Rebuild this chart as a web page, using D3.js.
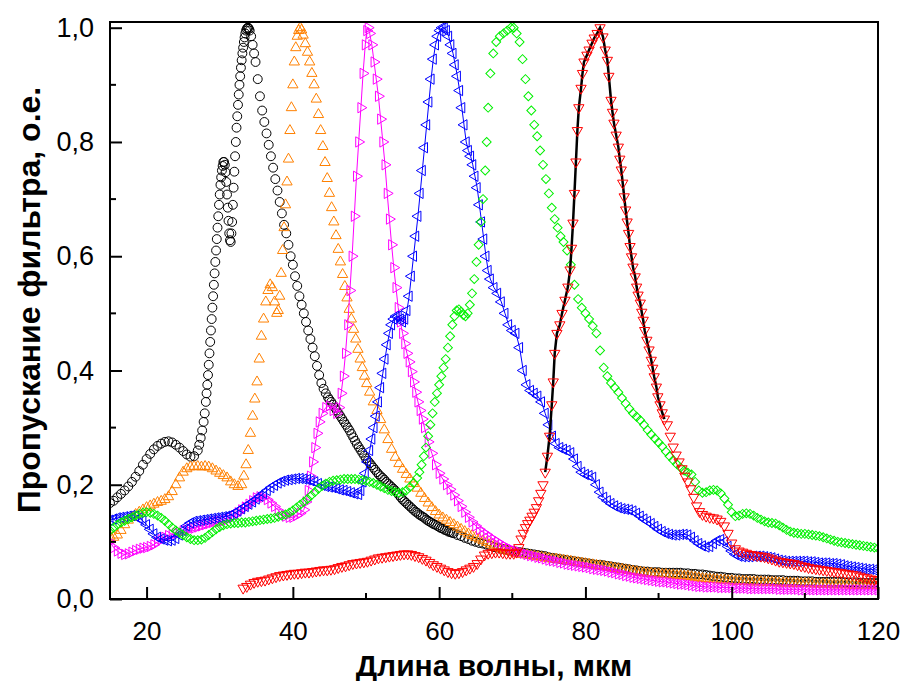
<!DOCTYPE html>
<html>
<head>
<meta charset="utf-8">
<script src="https://cdn.jsdelivr.net/npm/d3@7"></script>
<style>
  body { margin: 0; background: #fff; }
  svg { display: block; }
  text { font-family: "Liberation Sans", Arial, sans-serif; fill: #000; }
</style>
</head>
<body>
<svg id="chart" width="906" height="681"></svg>
<script>
// Axis ticks and titles
const xMajorTicks = [20, 40, 60, 80, 100, 120];
const xMinorTicks = [30, 50, 70, 90, 110];
const yMajorTicks = [0, 0.2, 0.4, 0.6, 0.8, 1.0];
const yMinorTicks = [0.1, 0.3, 0.5, 0.7, 0.9];
const xTitle = "Длина волны, мкм";
const yTitle = "Пропускание фильтра, о.е.";

// Filter transmission spectra: [wavelength, transmission]
const filter34 = [[15,0.168],[15.5,0.172],[16,0.178],[16.5,0.184],[17,0.19],[17.5,0.197],[18,0.205],[18.5,0.214],[19,0.224],[19.5,0.235],[20,0.245],[20.5,0.254],[21,0.262],[21.5,0.268],[22,0.272],[22.5,0.275],[23,0.276],[23.5,0.274],[24,0.27],[24.5,0.265],[25,0.259],[25.5,0.253],[26,0.249],[26.5,0.25],[27,0.26],[27.2,0.27],[27.4,0.282],[27.6,0.295],[27.8,0.31],[27.95,0.325],[28.1,0.345],[28.2,0.36],[28.3,0.375],[28.4,0.392],[28.5,0.41],[28.6,0.43],[28.7,0.45],[28.8,0.47],[28.9,0.49],[29,0.51],[29.1,0.53],[29.2,0.55],[29.3,0.57],[29.4,0.59],[29.5,0.61],[29.6,0.63],[29.7,0.65],[29.8,0.67],[29.9,0.69],[30,0.708],[30.1,0.725],[30.2,0.738],[30.3,0.75],[30.4,0.758],[30.5,0.765],[30.6,0.765],[30.7,0.76],[30.8,0.747],[30.9,0.73],[31,0.708],[31.1,0.685],[31.2,0.662],[31.3,0.64],[31.4,0.628],[31.5,0.625],[31.6,0.64],[31.7,0.66],[31.8,0.69],[31.9,0.72],[32,0.748],[32.1,0.775],[32.2,0.8],[32.3,0.825],[32.4,0.845],[32.5,0.865],[32.6,0.883],[32.7,0.9],[32.8,0.915],[32.9,0.93],[33,0.943],[33.1,0.955],[33.2,0.965],[33.3,0.975],[33.4,0.983],[33.5,0.99],[33.6,0.995],[33.7,0.998],[33.8,1.0],[33.9,1.0],[34,0.998],[34.1,0.995],[34.3,0.985],[34.5,0.97],[34.7,0.955],[34.9,0.94],[35.2,0.91],[35.5,0.88],[35.8,0.855],[36.1,0.835],[36.4,0.815],[36.7,0.795],[37,0.775],[37.3,0.755],[37.6,0.735],[37.9,0.715],[38.2,0.695],[38.5,0.675],[38.8,0.655],[39.1,0.64],[39.4,0.62],[39.7,0.6],[40,0.585],[40.3,0.565],[40.6,0.548],[40.9,0.53],[41.2,0.515],[41.5,0.5],[41.8,0.485],[42.1,0.47],[42.4,0.455],[42.7,0.44],[43,0.425],[43.3,0.408],[43.6,0.392],[43.9,0.378],[44.2,0.368],[44.5,0.36],[44.8,0.353],[45,0.349],[45.25,0.345],[45.5,0.34],[45.75,0.335],[46,0.33],[46.25,0.325],[46.5,0.32],[46.75,0.315],[47,0.31],[47.25,0.305],[47.5,0.3],[47.75,0.295],[48,0.289],[48.25,0.283],[48.5,0.277],[48.75,0.271],[49,0.266],[49.25,0.261],[49.5,0.256],[49.75,0.251],[50,0.246],[50.25,0.242],[50.5,0.238],[50.75,0.234],[51,0.23],[51.25,0.226],[51.5,0.222],[51.75,0.218],[52,0.215],[52.25,0.212],[52.5,0.209],[52.75,0.205],[53,0.202],[53.25,0.199],[53.5,0.196],[53.75,0.193],[54,0.19],[54.25,0.186],[54.5,0.182],[54.75,0.178],[55,0.174],[55.25,0.171],[55.5,0.168],[55.75,0.165],[56,0.162],[56.25,0.159],[56.5,0.156],[56.75,0.153],[57,0.151],[57.25,0.148],[57.5,0.146],[57.75,0.144],[58,0.142],[58.25,0.139],[58.5,0.137],[58.75,0.135],[59,0.133],[59.25,0.131],[59.5,0.13],[59.75,0.128],[60,0.126],[60.25,0.124],[60.5,0.123],[60.75,0.121],[61,0.12],[61.25,0.118],[61.5,0.117],[61.75,0.116],[62,0.115],[62.5,0.112],[63,0.11],[63.5,0.107],[64,0.105],[64.5,0.102],[65,0.1],[65.5,0.098],[66,0.097],[66.5,0.095],[67,0.093],[67.5,0.091],[68,0.09],[68.5,0.088],[69,0.087],[69.5,0.085],[70,0.084],[70.5,0.083],[71,0.082],[71.5,0.081],[72,0.08],[72.5,0.079],[73,0.078],[73.5,0.077],[74,0.076],[74.5,0.075],[75,0.073],[75.5,0.072],[76,0.071],[76.5,0.07],[77,0.069],[77.5,0.068],[78,0.067],[78.5,0.066],[79,0.065],[79.5,0.064],[80,0.063],[80.5,0.062],[81,0.061],[81.5,0.06],[82,0.06],[82.5,0.059],[83,0.058],[83.5,0.057],[84,0.056],[84.5,0.055],[85,0.054],[85.5,0.053],[86,0.052],[86.5,0.051],[87,0.05],[87.5,0.049],[88,0.048],[88.5,0.048],[89,0.047],[89.5,0.047],[90,0.047],[90.5,0.046],[91,0.046],[91.5,0.046],[92,0.046],[92.5,0.046],[93,0.046],[93.5,0.045],[94,0.045],[94.5,0.044],[95,0.044],[95.5,0.043],[96,0.043],[96.5,0.042],[97,0.041],[97.5,0.04],[98,0.039],[98.5,0.039],[99,0.038],[99.5,0.037],[100,0.037],[100.5,0.036],[101,0.036],[101.5,0.035],[102,0.035],[102.5,0.035],[103,0.035],[103.5,0.034],[104,0.034],[104.5,0.034],[105,0.034],[105.5,0.033],[106,0.033],[106.5,0.033],[107,0.033],[107.5,0.032],[108,0.032],[108.5,0.032],[109,0.032],[109.5,0.031],[110,0.031],[110.5,0.031],[111,0.031],[111.5,0.03],[112,0.03],[112.5,0.03],[113,0.03],[113.5,0.03],[114,0.03],[114.5,0.03],[115,0.03],[115.5,0.029],[116,0.029],[116.5,0.029],[117,0.029],[117.5,0.028],[118,0.028],[118.5,0.028],[119,0.028],[119.5,0.028],[120,0.028]];

const filter41 = [[15,0.11],[15.5,0.108],[16,0.112],[16.5,0.12],[17,0.13],[17.5,0.138],[18,0.143],[18.5,0.148],[19,0.152],[19.5,0.156],[20,0.16],[20.5,0.163],[21,0.166],[21.5,0.169],[22,0.171],[22.5,0.174],[23,0.179],[23.5,0.188],[24,0.2],[24.5,0.212],[25,0.222],[25.5,0.228],[26,0.231],[26.5,0.232],[27,0.232],[27.5,0.231],[28,0.232],[28.5,0.231],[29,0.228],[29.5,0.224],[30,0.22],[30.5,0.216],[31,0.212],[31.5,0.205],[32,0.2],[32.5,0.197],[33,0.2],[33.3,0.215],[33.6,0.235],[33.9,0.26],[34.2,0.29],[34.5,0.32],[34.8,0.35],[35.1,0.38],[35.4,0.42],[35.7,0.46],[36,0.49],[36.3,0.52],[36.6,0.54],[36.9,0.55],[37.2,0.545],[37.5,0.52],[37.8,0.5],[38,0.505],[38.2,0.53],[38.4,0.57],[38.6,0.61],[38.8,0.65],[39,0.69],[39.2,0.73],[39.4,0.77],[39.6,0.82],[39.8,0.86],[40,0.9],[40.2,0.94],[40.4,0.965],[40.6,0.985],[40.8,0.995],[41,1.0],[41.2,0.996],[41.4,0.987],[41.7,0.972],[42,0.957],[42.3,0.94],[42.6,0.92],[42.9,0.9],[43.2,0.875],[43.5,0.848],[43.8,0.82],[44.1,0.792],[44.4,0.764],[44.7,0.736],[45,0.71],[45.3,0.685],[45.6,0.66],[45.9,0.636],[46.2,0.612],[46.5,0.59],[46.8,0.568],[47.1,0.547],[47.4,0.527],[47.7,0.507],[48,0.49],[48.3,0.472],[48.6,0.455],[48.9,0.437],[49.2,0.42],[49.5,0.405],[49.8,0.39],[50.1,0.377],[50.5,0.362],[51,0.345],[51.5,0.33],[52,0.314],[52.5,0.296],[53,0.279],[53.5,0.262],[54,0.248],[54.5,0.237],[55,0.227],[55.5,0.218],[56,0.21],[56.5,0.202],[57,0.194],[57.5,0.185],[58,0.176],[58.5,0.168],[59,0.16],[59.5,0.153],[60,0.147],[60.5,0.142],[61,0.138],[61.5,0.134],[62,0.13],[62.5,0.126],[63,0.122],[63.5,0.118],[64,0.114],[64.5,0.111],[65,0.108],[65.5,0.105],[66,0.102],[66.5,0.099],[67,0.096],[67.5,0.093],[68,0.09],[68.5,0.088],[69,0.086],[69.5,0.084],[70,0.082],[70.5,0.08],[71,0.079],[71.5,0.078],[72,0.077],[72.5,0.076],[73,0.075],[73.5,0.074],[74,0.073],[74.5,0.072],[75,0.071],[75.5,0.07],[76,0.07],[76.5,0.069],[77,0.068],[77.5,0.067],[78,0.066],[78.5,0.065],[79,0.064],[79.5,0.063],[80,0.062],[80.5,0.061],[81,0.06],[81.5,0.059],[82,0.058],[82.5,0.057],[83,0.056],[83.5,0.055],[84,0.054],[84.5,0.053],[85,0.052],[85.5,0.051],[86,0.05],[86.5,0.049],[87,0.048],[87.5,0.047],[88,0.046],[88.5,0.045],[89,0.045],[89.5,0.044],[90,0.044],[90.5,0.043],[91,0.043],[91.5,0.042],[92,0.042],[92.5,0.041],[93,0.041],[93.5,0.04],[94,0.04],[94.5,0.039],[95,0.038],[95.5,0.037],[96,0.036],[96.5,0.035],[97,0.035],[97.5,0.034],[98,0.034],[98.5,0.033],[99,0.033],[99.5,0.032],[100,0.032],[100.5,0.031],[101,0.031],[101.5,0.031],[102,0.031],[102.5,0.03],[103,0.03],[103.5,0.03],[104,0.03],[104.5,0.029],[105,0.029],[105.5,0.029],[106,0.029],[106.5,0.028],[107,0.028],[107.5,0.028],[108,0.028],[108.5,0.027],[109,0.027],[109.5,0.027],[110,0.027],[110.5,0.027],[111,0.027],[111.5,0.026],[112,0.026],[112.5,0.026],[113,0.026],[113.5,0.025],[114,0.025],[114.5,0.025],[115,0.025],[115.5,0.025],[116,0.025],[116.5,0.024],[117,0.024],[117.5,0.024],[118,0.024],[118.5,0.024],[119,0.024],[119.5,0.024],[120,0.024]];

const filter50 = [[15,0.1],[15.5,0.09],[16,0.084],[16.5,0.08],[17,0.078],[17.5,0.079],[18,0.082],[18.5,0.085],[19,0.087],[19.5,0.089],[20,0.09],[20.5,0.092],[21,0.095],[21.5,0.1],[22,0.104],[22.5,0.108],[23,0.111],[23.5,0.113],[24,0.115],[24.5,0.117],[25,0.119],[25.5,0.121],[26,0.123],[26.5,0.124],[27,0.126],[27.5,0.128],[28,0.13],[28.5,0.132],[29,0.134],[29.5,0.135],[30,0.136],[30.5,0.137],[31,0.139],[31.5,0.142],[32,0.146],[32.5,0.151],[33,0.156],[33.5,0.161],[34,0.166],[34.5,0.172],[35,0.177],[35.5,0.179],[36,0.178],[36.5,0.174],[37,0.168],[37.5,0.162],[38,0.155],[38.5,0.149],[39,0.145],[39.5,0.143],[40,0.143],[40.5,0.146],[41,0.15],[41.5,0.156],[41.8,0.17],[42.1,0.19],[42.4,0.215],[42.7,0.24],[43,0.265],[43.3,0.29],[43.6,0.31],[44,0.325],[44.5,0.335],[45,0.338],[45.5,0.33],[46,0.325],[46.3,0.335],[46.6,0.36],[46.9,0.39],[47.2,0.43],[47.5,0.48],[47.8,0.54],[48.1,0.6],[48.4,0.67],[48.7,0.74],[49,0.8],[49.3,0.86],[49.6,0.92],[49.9,0.97],[50.1,0.995],[50.3,1.0],[50.5,0.99],[50.8,0.97],[51.1,0.94],[51.4,0.91],[51.7,0.88],[52,0.84],[52.3,0.8],[52.6,0.76],[52.9,0.71],[53.2,0.665],[53.5,0.62],[53.8,0.58],[54.1,0.545],[54.4,0.51],[54.7,0.485],[55,0.465],[55.3,0.447],[55.6,0.43],[55.9,0.415],[56.2,0.398],[56.5,0.38],[56.8,0.362],[57.1,0.345],[57.4,0.33],[57.7,0.315],[58,0.3],[58.5,0.275],[59,0.255],[59.5,0.235],[60,0.22],[60.5,0.21],[61,0.2],[61.5,0.192],[62,0.182],[62.5,0.172],[63,0.162],[63.5,0.152],[64,0.143],[64.5,0.135],[65,0.128],[65.5,0.122],[66,0.117],[66.5,0.113],[67,0.108],[67.5,0.104],[68,0.1],[68.5,0.096],[69,0.092],[69.5,0.089],[70,0.086],[70.5,0.084],[71,0.082],[71.5,0.08],[72,0.078],[72.5,0.076],[73,0.075],[73.5,0.073],[74,0.072],[74.5,0.07],[75,0.068],[75.5,0.067],[76,0.066],[76.5,0.064],[77,0.063],[77.5,0.061],[78,0.06],[78.5,0.059],[79,0.058],[79.5,0.057],[80,0.056],[80.5,0.055],[81,0.053],[81.5,0.052],[82,0.051],[82.5,0.05],[83,0.049],[83.5,0.047],[84,0.046],[84.5,0.044],[85,0.043],[85.5,0.041],[86,0.04],[86.5,0.038],[87,0.037],[87.5,0.036],[88,0.035],[88.5,0.034],[89,0.033],[89.5,0.032],[90,0.031],[90.5,0.03],[91,0.03],[91.5,0.029],[92,0.028],[92.5,0.027],[93,0.026],[93.5,0.026],[94,0.025],[94.5,0.024],[95,0.023],[95.5,0.022],[96,0.022],[96.5,0.021],[97,0.021],[97.5,0.021],[98,0.021],[98.5,0.02],[99,0.02],[99.5,0.02],[100,0.02],[100.5,0.019],[101,0.019],[101.5,0.019],[102,0.019],[102.5,0.018],[103,0.018],[103.5,0.018],[104,0.018],[104.5,0.018],[105,0.018],[105.5,0.018],[106,0.018],[106.5,0.017],[107,0.017],[107.5,0.017],[108,0.017],[108.5,0.017],[109,0.017],[109.5,0.016],[110,0.016],[110.5,0.016],[111,0.016],[111.5,0.016],[112,0.016],[112.5,0.016],[113,0.016],[113.5,0.016],[114,0.016],[114.5,0.016],[115,0.016],[115.5,0.016],[116,0.016],[116.5,0.016],[117,0.016],[117.5,0.016],[118,0.016],[118.5,0.016],[119,0.016],[119.5,0.016],[120,0.016]];

const filter61 = [[15,0.138],[15.5,0.14],[16,0.142],[16.5,0.143],[17,0.144],[17.5,0.145],[18,0.146],[18.5,0.145],[19,0.142],[19.5,0.137],[20,0.13],[20.5,0.122],[21,0.114],[21.5,0.108],[22,0.105],[22.5,0.103],[23,0.102],[23.5,0.103],[24,0.106],[24.5,0.112],[25,0.12],[25.5,0.128],[26,0.133],[26.5,0.136],[27,0.137],[27.5,0.138],[28,0.139],[28.5,0.14],[29,0.141],[29.5,0.142],[30,0.143],[30.5,0.144],[31,0.145],[31.5,0.147],[32,0.15],[32.5,0.154],[33,0.158],[33.5,0.162],[34,0.166],[34.5,0.17],[35,0.175],[35.5,0.18],[36,0.185],[36.5,0.19],[37,0.195],[37.5,0.199],[38,0.203],[38.5,0.206],[39,0.208],[39.5,0.209],[40,0.21],[40.5,0.211],[41,0.211],[41.5,0.21],[42,0.209],[42.5,0.207],[43,0.205],[43.5,0.202],[44,0.199],[44.5,0.197],[45,0.196],[45.5,0.195],[46,0.193],[46.5,0.191],[47,0.19],[47.5,0.188],[48,0.186],[48.5,0.184],[49,0.183],[49.3,0.19],[49.6,0.205],[49.9,0.22],[50.2,0.24],[50.5,0.26],[50.8,0.28],[51.1,0.3],[51.4,0.32],[51.7,0.345],[52,0.37],[52.3,0.395],[52.6,0.42],[52.9,0.445],[53.2,0.465],[53.5,0.48],[53.8,0.49],[54.1,0.495],[54.4,0.495],[54.7,0.49],[55,0.485],[55.3,0.49],[55.6,0.505],[55.9,0.53],[56.2,0.565],[56.5,0.6],[56.8,0.635],[57.1,0.67],[57.4,0.71],[57.7,0.75],[58,0.79],[58.3,0.83],[58.6,0.87],[58.9,0.91],[59.2,0.945],[59.5,0.97],[59.8,0.985],[60.1,0.995],[60.4,1.0],[60.7,1.0],[61,0.995],[61.3,0.985],[61.6,0.97],[61.9,0.955],[62.2,0.935],[62.5,0.915],[62.8,0.89],[63.1,0.86],[63.4,0.83],[63.7,0.8],[64,0.785],[64.3,0.775],[64.6,0.76],[64.9,0.74],[65.2,0.72],[65.5,0.69],[65.8,0.66],[66.1,0.63],[66.4,0.6],[66.7,0.575],[67,0.56],[67.5,0.545],[68,0.535],[68.5,0.52],[69,0.5],[69.5,0.48],[70,0.47],[70.5,0.465],[71,0.44],[71.5,0.4],[72,0.375],[72.5,0.365],[73,0.36],[73.5,0.355],[74,0.345],[74.5,0.325],[75,0.305],[75.5,0.285],[76,0.272],[76.5,0.265],[77,0.262],[77.5,0.26],[78,0.256],[78.5,0.245],[79,0.232],[79.5,0.222],[80,0.218],[80.5,0.216],[81,0.213],[81.5,0.2],[82,0.187],[82.5,0.178],[83,0.172],[83.5,0.167],[84,0.163],[84.5,0.16],[85,0.158],[85.5,0.157],[86,0.156],[86.5,0.154],[87,0.15],[87.5,0.145],[88,0.14],[88.5,0.136],[89,0.132],[89.5,0.127],[90,0.122],[90.5,0.118],[91,0.115],[91.5,0.113],[92,0.112],[92.5,0.112],[93,0.113],[93.5,0.113],[94,0.112],[94.5,0.108],[95,0.102],[95.5,0.097],[96,0.093],[96.5,0.091],[97,0.092],[97.5,0.097],[98,0.102],[98.5,0.104],[99,0.1],[99.5,0.092],[100,0.084],[100.5,0.078],[101,0.075],[101.5,0.074],[102,0.074],[102.5,0.074],[103,0.075],[103.5,0.075],[104,0.075],[104.5,0.074],[105,0.073],[105.5,0.072],[106,0.07],[106.5,0.068],[107,0.067],[107.5,0.066],[108,0.066],[108.5,0.066],[109,0.066],[109.5,0.066],[110,0.066],[110.5,0.065],[111,0.065],[111.5,0.064],[112,0.063],[112.5,0.063],[113,0.063],[113.5,0.062],[114,0.062],[114.5,0.061],[115,0.06],[115.5,0.058],[116,0.057],[116.5,0.056],[117,0.055],[117.5,0.054],[118,0.053],[118.5,0.052],[119,0.052],[119.5,0.051],[120,0.051]];

const filter70 = [[15,0.12],[15.5,0.125],[16,0.13],[16.5,0.134],[17,0.137],[17.5,0.14],[18,0.143],[18.5,0.146],[19,0.149],[19.5,0.151],[20,0.152],[20.5,0.151],[21,0.149],[21.5,0.146],[22,0.142],[22.5,0.137],[23,0.131],[23.5,0.125],[24,0.12],[24.5,0.116],[25,0.112],[25.5,0.108],[26,0.105],[26.5,0.103],[27,0.103],[27.5,0.104],[28,0.107],[28.5,0.112],[29,0.117],[29.5,0.122],[30,0.126],[30.5,0.129],[31,0.131],[31.5,0.132],[32,0.133],[32.5,0.133],[33,0.134],[33.5,0.134],[34,0.135],[34.5,0.136],[35,0.137],[35.5,0.138],[36,0.139],[36.5,0.14],[37,0.141],[37.5,0.142],[38,0.144],[38.5,0.146],[39,0.148],[39.5,0.151],[40,0.155],[40.5,0.16],[41,0.165],[41.5,0.17],[42,0.175],[42.5,0.181],[43,0.187],[43.5,0.193],[44,0.198],[44.5,0.202],[45,0.205],[45.5,0.207],[46,0.208],[46.5,0.209],[47,0.21],[47.5,0.21],[48,0.21],[48.5,0.21],[49,0.209],[49.5,0.208],[50,0.207],[50.5,0.205],[51,0.203],[51.5,0.2],[52,0.197],[52.5,0.194],[53,0.191],[53.5,0.189],[54,0.187],[54.5,0.186],[55,0.187],[55.5,0.19],[56,0.196],[56.5,0.203],[57,0.212],[57.3,0.222],[57.6,0.235],[57.9,0.25],[58.2,0.265],[58.5,0.285],[58.8,0.305],[59.1,0.325],[59.4,0.345],[59.7,0.36],[60,0.375],[60.3,0.39],[60.6,0.405],[60.9,0.42],[61.2,0.44],[61.5,0.46],[61.8,0.48],[62.1,0.495],[62.4,0.505],[62.7,0.507],[63,0.503],[63.3,0.497],[63.6,0.495],[63.9,0.5],[64.2,0.515],[64.5,0.535],[64.8,0.56],[65.1,0.59],[65.4,0.62],[65.7,0.66],[66,0.7],[66.3,0.75],[66.5,0.8],[66.7,0.86],[67,0.92],[67.4,0.955],[67.8,0.975],[68.3,0.985],[68.8,0.99],[69.3,0.995],[69.8,1.0],[70.2,1.0],[70.6,0.99],[71,0.975],[71.4,0.945],[71.8,0.91],[72.2,0.88],[72.6,0.855],[73,0.83],[73.4,0.81],[73.8,0.785],[74.2,0.76],[74.6,0.735],[75,0.71],[75.4,0.685],[75.8,0.665],[76.2,0.65],[76.6,0.635],[77,0.625],[77.5,0.61],[78,0.585],[78.5,0.55],[79,0.525],[79.5,0.51],[80,0.5],[80.5,0.49],[81,0.478],[81.5,0.465],[82,0.435],[82.5,0.405],[83,0.39],[83.5,0.378],[84,0.37],[84.5,0.362],[85,0.352],[85.5,0.342],[86,0.333],[86.5,0.325],[87,0.319],[87.5,0.313],[88,0.305],[88.5,0.296],[89,0.288],[89.5,0.281],[90,0.274],[90.5,0.267],[91,0.258],[91.5,0.25],[92,0.243],[92.5,0.236],[93,0.23],[93.5,0.225],[94,0.221],[94.5,0.218],[95,0.205],[95.5,0.19],[96,0.186],[96.5,0.187],[97,0.19],[97.5,0.191],[98,0.19],[98.5,0.185],[99,0.176],[99.5,0.165],[100,0.152],[100.5,0.145],[101,0.146],[101.5,0.149],[102,0.15],[102.5,0.149],[103,0.146],[103.5,0.142],[104,0.139],[104.5,0.136],[105,0.134],[105.5,0.133],[106,0.132],[106.5,0.129],[107,0.125],[107.5,0.121],[108,0.118],[108.5,0.116],[109,0.115],[109.5,0.114],[110,0.114],[110.5,0.113],[111,0.112],[111.5,0.111],[112,0.11],[112.5,0.108],[113,0.106],[113.5,0.104],[114,0.102],[114.5,0.1],[115,0.099],[115.5,0.098],[116,0.097],[116.5,0.096],[117,0.095],[117.5,0.094],[118,0.093],[118.5,0.092],[119,0.091],[119.5,0.09],[120,0.089]];

const filter82 = [[33.2,0.019],[33.7,0.022],[34.2,0.026],[34.7,0.029],[35.2,0.031],[35.7,0.032],[36.2,0.033],[36.7,0.035],[37.2,0.037],[37.7,0.039],[38.2,0.041],[38.7,0.042],[39.2,0.043],[39.7,0.044],[40.2,0.045],[40.7,0.045],[41.2,0.046],[41.7,0.047],[42.2,0.047],[42.7,0.048],[43.2,0.049],[43.7,0.05],[44.2,0.051],[44.7,0.051],[45.2,0.052],[45.7,0.053],[46.2,0.055],[46.7,0.057],[47.2,0.058],[47.7,0.06],[48.2,0.062],[48.7,0.063],[49.2,0.064],[49.7,0.065],[50.2,0.066],[50.7,0.068],[51.2,0.07],[51.7,0.072],[52.2,0.073],[52.7,0.074],[53.2,0.075],[53.7,0.076],[54.2,0.077],[54.7,0.078],[55.2,0.079],[55.7,0.079],[56.2,0.078],[56.7,0.076],[57.2,0.074],[57.7,0.071],[58.2,0.068],[58.7,0.064],[59.2,0.06],[59.7,0.057],[60.2,0.054],[60.7,0.051],[61.2,0.048],[61.7,0.046],[62.2,0.045],[62.7,0.046],[63.2,0.048],[63.7,0.051],[64.2,0.054],[64.7,0.057],[65.2,0.062],[65.7,0.07],[66.2,0.077],[66.7,0.08],[67.2,0.081],[67.7,0.082],[68.2,0.082],[68.7,0.081],[69.2,0.08],[69.7,0.08],[70.2,0.08],[70.6,0.082],[70.9,0.09],[71.2,0.105],[71.5,0.115],[71.8,0.125],[72.1,0.132],[72.4,0.138],[72.7,0.145],[73,0.152],[73.3,0.16],[73.6,0.172],[73.9,0.185],[74.2,0.2],[74.5,0.222],[74.8,0.25],[75.1,0.285],[75.4,0.34],[75.6,0.38],[75.8,0.43],[76.1,0.465],[76.5,0.48],[76.8,0.5],[77.2,0.523],[77.6,0.546],[77.9,0.576],[78.1,0.614],[78.3,0.658],[78.5,0.71],[78.7,0.765],[78.9,0.82],[79.1,0.86],[79.4,0.894],[79.6,0.92],[79.8,0.94],[80.2,0.952],[80.5,0.961],[80.9,0.973],[81.2,0.982],[81.6,0.99],[82,1.0],[82.4,0.984],[82.7,0.961],[83,0.943],[83.2,0.915],[83.5,0.873],[83.7,0.852],[83.9,0.833],[84.2,0.812],[84.5,0.791],[84.7,0.77],[84.9,0.751],[85.1,0.728],[85.3,0.704],[85.5,0.681],[85.7,0.66],[85.9,0.64],[86.1,0.617],[86.3,0.599],[86.5,0.581],[86.8,0.564],[87,0.546],[87.2,0.532],[87.5,0.518],[87.7,0.502],[87.9,0.488],[88.1,0.47],[88.4,0.453],[88.7,0.436],[89,0.418],[89.2,0.404],[89.4,0.389],[89.7,0.371],[89.9,0.354],[90.2,0.34],[90.5,0.326],[90.8,0.315],[91.2,0.305],[91.6,0.285],[92,0.266],[92.4,0.252],[92.8,0.24],[93.2,0.228],[93.6,0.215],[94,0.205],[94.4,0.193],[94.8,0.178],[95.2,0.163],[95.6,0.153],[96,0.148],[96.5,0.145],[97,0.143],[97.5,0.142],[98,0.14],[98.5,0.136],[99,0.128],[99.5,0.115],[100,0.098],[100.5,0.088],[101,0.084],[101.5,0.082],[102,0.08],[102.5,0.078],[103,0.077],[103.5,0.076],[104,0.075],[104.5,0.074],[105,0.072],[105.5,0.07],[106,0.068],[106.5,0.066],[107,0.065],[107.5,0.064],[108,0.063],[108.5,0.062],[109,0.06],[109.5,0.058],[110,0.057],[110.5,0.055],[111,0.054],[111.5,0.053],[112,0.052],[112.5,0.051],[113,0.05],[113.5,0.049],[114,0.048],[114.5,0.047],[115,0.046],[115.5,0.045],[116,0.044],[116.5,0.043],[117,0.042],[117.5,0.04],[118,0.038],[118.5,0.037],[119,0.035],[119.5,0.034],[120,0.033]];

// Series styling: marker shape, rotation, colour, optional connecting line
const series = [
  { data: filter34, color: "#000000", symbol: d3.symbolCircle, size: 62, rotate: 0 },
  { data: filter41, color: "#ff8000", symbol: d3.symbolTriangle, size: 46, rotate: 0 },
  { data: filter50, color: "#ff00ff", symbol: d3.symbolTriangle, size: 46, rotate: 90,
    line: { color: "#ff00ff", width: 1 } },
  { data: filter61, color: "#0000ff", symbol: d3.symbolTriangle, size: 46, rotate: -90,
    line: { color: "#0000ff", width: 1 } },
  { data: filter70, color: "#00f000", symbol: d3.symbolSquare, size: 40, rotate: 45 },
  { data: filter82, color: "#ff0000", symbol: d3.symbolTriangle, size: 46, rotate: 180,
    line: { color: "#000000", width: 2.5, from: 74.5, to: 91 } }
];

const W = 906, H = 681;
const plot = { left: 110, right: 878, top: 22, bottom: 599 };

const x = d3.scaleLinear().domain([15, 120]).range([plot.left, plot.right]);
const y = d3.scaleLinear().domain([0, 1.01]).range([plot.bottom, plot.top]);

const svg = d3.select("#chart");
svg.append("rect").attr("width", W).attr("height", H).attr("fill", "#fff");

svg.append("defs").append("clipPath").attr("id", "plot-clip")
  .append("rect")
  .attr("x", plot.left).attr("y", plot.top)
  .attr("width", plot.right - plot.left).attr("height", plot.bottom - plot.top);

const marks = svg.append("g").attr("clip-path", "url(#plot-clip)");

series.forEach(s => {
  if (s.line) {
    const pts = s.data.filter(d => (s.line.from === undefined || d[0] >= s.line.from) &&
                                   (s.line.to === undefined || d[0] <= s.line.to));
    marks.append("path")
      .datum(pts)
      .attr("fill", "none")
      .attr("stroke", s.line.color)
      .attr("stroke-width", s.line.width)
      .attr("d", d3.line().x(d => x(d[0])).y(d => y(d[1])));
  }
  const shape = d3.symbol().type(s.symbol).size(s.size)();
  marks.append("g")
    .selectAll("path")
    .data(s.data)
    .join("path")
    .attr("d", shape)
    .attr("transform", d => `translate(${x(d[0])},${y(d[1])}) rotate(${s.rotate})`)
    .attr("fill", "none")
    .attr("stroke", s.color)
    .attr("stroke-width", 1);
});

// Frame
svg.append("rect")
  .attr("x", plot.left).attr("y", plot.top)
  .attr("width", plot.right - plot.left).attr("height", plot.bottom - plot.top)
  .attr("fill", "none").attr("stroke", "#000").attr("stroke-width", 2);

// Bottom axis: inward ticks
const xAxis = d3.axisBottom(x).tickValues(xMajorTicks).tickSizeInner(-12).tickSizeOuter(0)
  .tickFormat(d3.format("d"));
const gx = svg.append("g").attr("transform", `translate(0,${plot.bottom})`).call(xAxis);
gx.select(".domain").remove();
gx.selectAll(".tick line").attr("stroke", "#000").attr("stroke-width", 2);
gx.selectAll(".tick text").attr("font-size", 26).attr("y", 23).attr("dy", "0.71em");
gx.selectAll(".minor").data(xMinorTicks).join("line")
  .attr("class", "minor")
  .attr("x1", d => x(d)).attr("x2", d => x(d))
  .attr("y1", 0).attr("y2", -6)
  .attr("stroke", "#000").attr("stroke-width", 2);

// Left axis: inward ticks, comma decimals
const commaFmt = d => d3.format(".1f")(d).replace(".", ",");
const yAxis = d3.axisLeft(y).tickValues(yMajorTicks).tickSizeInner(-12).tickSizeOuter(0)
  .tickFormat(commaFmt);
const gy = svg.append("g").attr("transform", `translate(${plot.left},0)`).call(yAxis);
gy.select(".domain").remove();
gy.selectAll(".tick line").attr("stroke", "#000").attr("stroke-width", 2);
gy.selectAll(".tick text").attr("font-size", 27).attr("x", -16);
gy.selectAll(".minor").data(yMinorTicks).join("line")
  .attr("class", "minor")
  .attr("x1", 0).attr("x2", 6)
  .attr("y1", d => y(d)).attr("y2", d => y(d))
  .attr("stroke", "#000").attr("stroke-width", 2);

// Axis titles
svg.append("text")
  .attr("x", (plot.left + plot.right) / 2).attr("y", 676)
  .attr("text-anchor", "middle")
  .attr("font-size", 30).attr("font-weight", "bold")
  .text(xTitle);

svg.append("text")
  .attr("transform", "translate(40,300) rotate(-90)")
  .attr("text-anchor", "middle")
  .attr("font-size", 32).attr("font-weight", "bold")
  .text(yTitle);
</script>
</body>
</html>
